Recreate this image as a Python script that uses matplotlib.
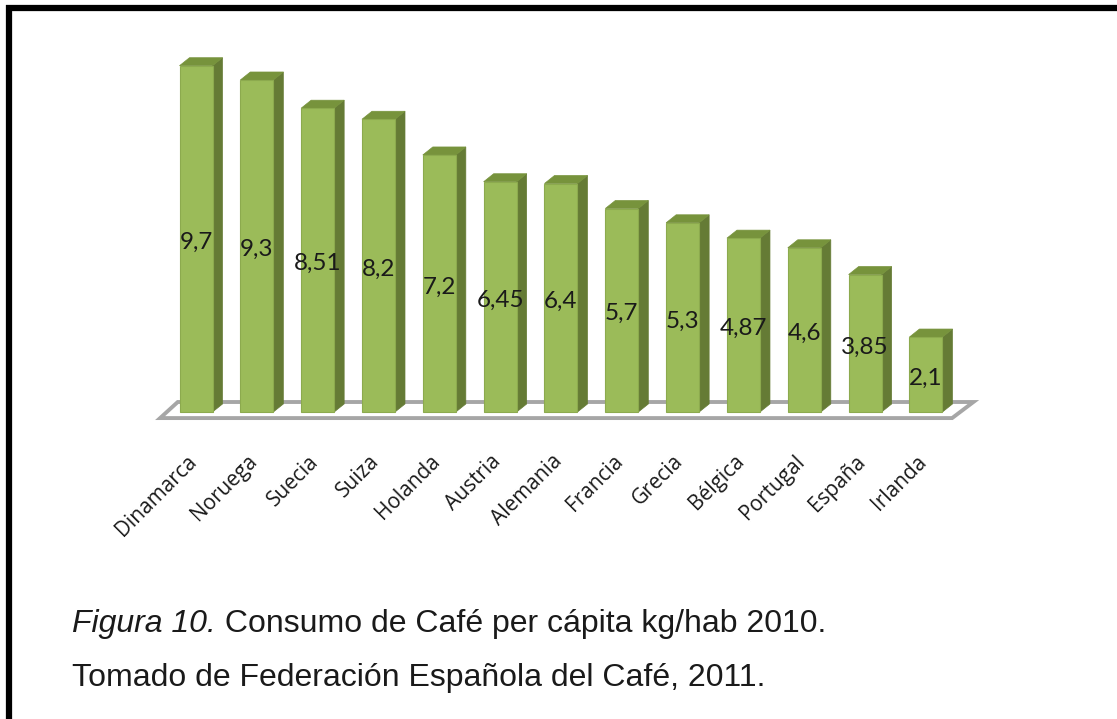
import numpy as np
import matplotlib
matplotlib.use("Agg")
import matplotlib.pyplot as plt
from matplotlib.patches import Polygon
from matplotlib.lines import Line2D

# datos
paises = ["Dinamarca", "Noruega", "Suecia", "Suiza", "Holanda", "Austria", "Alemania",
          "Francia", "Grecia", "Bélgica", "Portugal", "España", "Irlanda"]
consumo = [9.7, 9.3, 8.51, 8.2, 7.2, 6.45, 6.4, 5.7, 5.3, 4.87, 4.6, 3.85, 2.1]
etiquetas = ["9,7", "9,3", "8,51", "8,2", "7,2", "6,45", "6,4", "5,7", "5,3", "4,87", "4,6", "3,85", "2,1"]

W, H = 1117, 719
fig = plt.figure(figsize=(W / 100, H / 100), dpi=100)

# marco (linea superior e izquierda)
fig.add_artist(Line2D([6 / W, 1], [1 - 8 / H, 1 - 8 / H], color="black", lw=4.5,
                      transform=fig.transFigure, solid_capstyle="butt"))
fig.add_artist(Line2D([9 / W, 9 / W], [0, 1 - 5 / H], color="black", lw=4.5,
                      transform=fig.transFigure, solid_capstyle="butt"))

# ejes en pixeles: x centro barra i = 196 + 60.83*i, y 0 -> 412px, 35.7 px por unidad
px_i, x0 = 60.83, 196
px_v, y0 = 35.7, 412
left, right, top, bottom = 130, 1000, 40, 440
ax = fig.add_axes([left / W, 1 - bottom / H, (right - left) / W, (bottom - top) / H])
ax.set_xlim((left - x0) / px_i, (right - x0) / px_i)
ax.set_ylim((y0 - bottom) / px_v, (y0 - top) / px_v)
ax.axis("off")

w = 33 / px_i
dx = 10 / px_i
dy = 8 / px_v

# suelo
n = len(consumo)
suelo = [(-0.59, -0.17), (-0.30, 0.28), (n - 1 + 0.78, 0.28), (n - 1 + 0.43, -0.17)]
ax.add_patch(Polygon(suelo, closed=True, facecolor="white", edgecolor="#A6A6A6", lw=2.8, zorder=1))

frente = "#9BBB59"
lado = "#657B35"
techo = "#77933C"
for i, v in enumerate(consumo):
    xl, xr = i - w / 2, i + w / 2
    ax.add_patch(Polygon([(xr, 0), (xr + dx, dy), (xr + dx, v + dy), (xr, v)],
                         facecolor=lado, edgecolor=lado, lw=0.5, zorder=2))
    ax.add_patch(Polygon([(xl, v), (xl + dx, v + dy), (xr + dx, v + dy), (xr, v)],
                         facecolor=techo, edgecolor=techo, lw=0.5, zorder=2))
    ax.add_patch(Polygon([(xl, 0), (xl, v), (xr, v), (xr, 0)],
                         facecolor=frente, edgecolor="#8CAA4E", lw=0.8, zorder=3))
    ax.text(i, v / 2 - 0.1, etiquetas[i], ha="center", va="center", fontsize=17.5,
            family="Lato", color="#1a1a1a", zorder=4)
    ax.text(i - 0.16, -1.09, paises[i], rotation=45, rotation_mode="anchor",
            ha="right", va="top", fontsize=15, family="Open Sans", color="#1a1a1a")

# pie de figura
t1 = fig.text(72 / W, 1 - 624 / H, "Figura 10.", fontsize=23, style="italic",
              family="Liberation Sans", color="#1a1a1a", va="center")
ax.annotate(" Consumo de Café per cápita kg/hab 2010.", xy=(1, 0), xycoords=t1,
            va="bottom", ha="left", fontsize=23, family="Liberation Sans",
            color="#1a1a1a", annotation_clip=False)
fig.text(72 / W, 1 - 678 / H, "Tomado de Federación Española del Café, 2011.",
         fontsize=23, family="Liberation Sans", color="#1a1a1a", va="center")

fig.savefig("out.png", dpi=100, facecolor="white")
